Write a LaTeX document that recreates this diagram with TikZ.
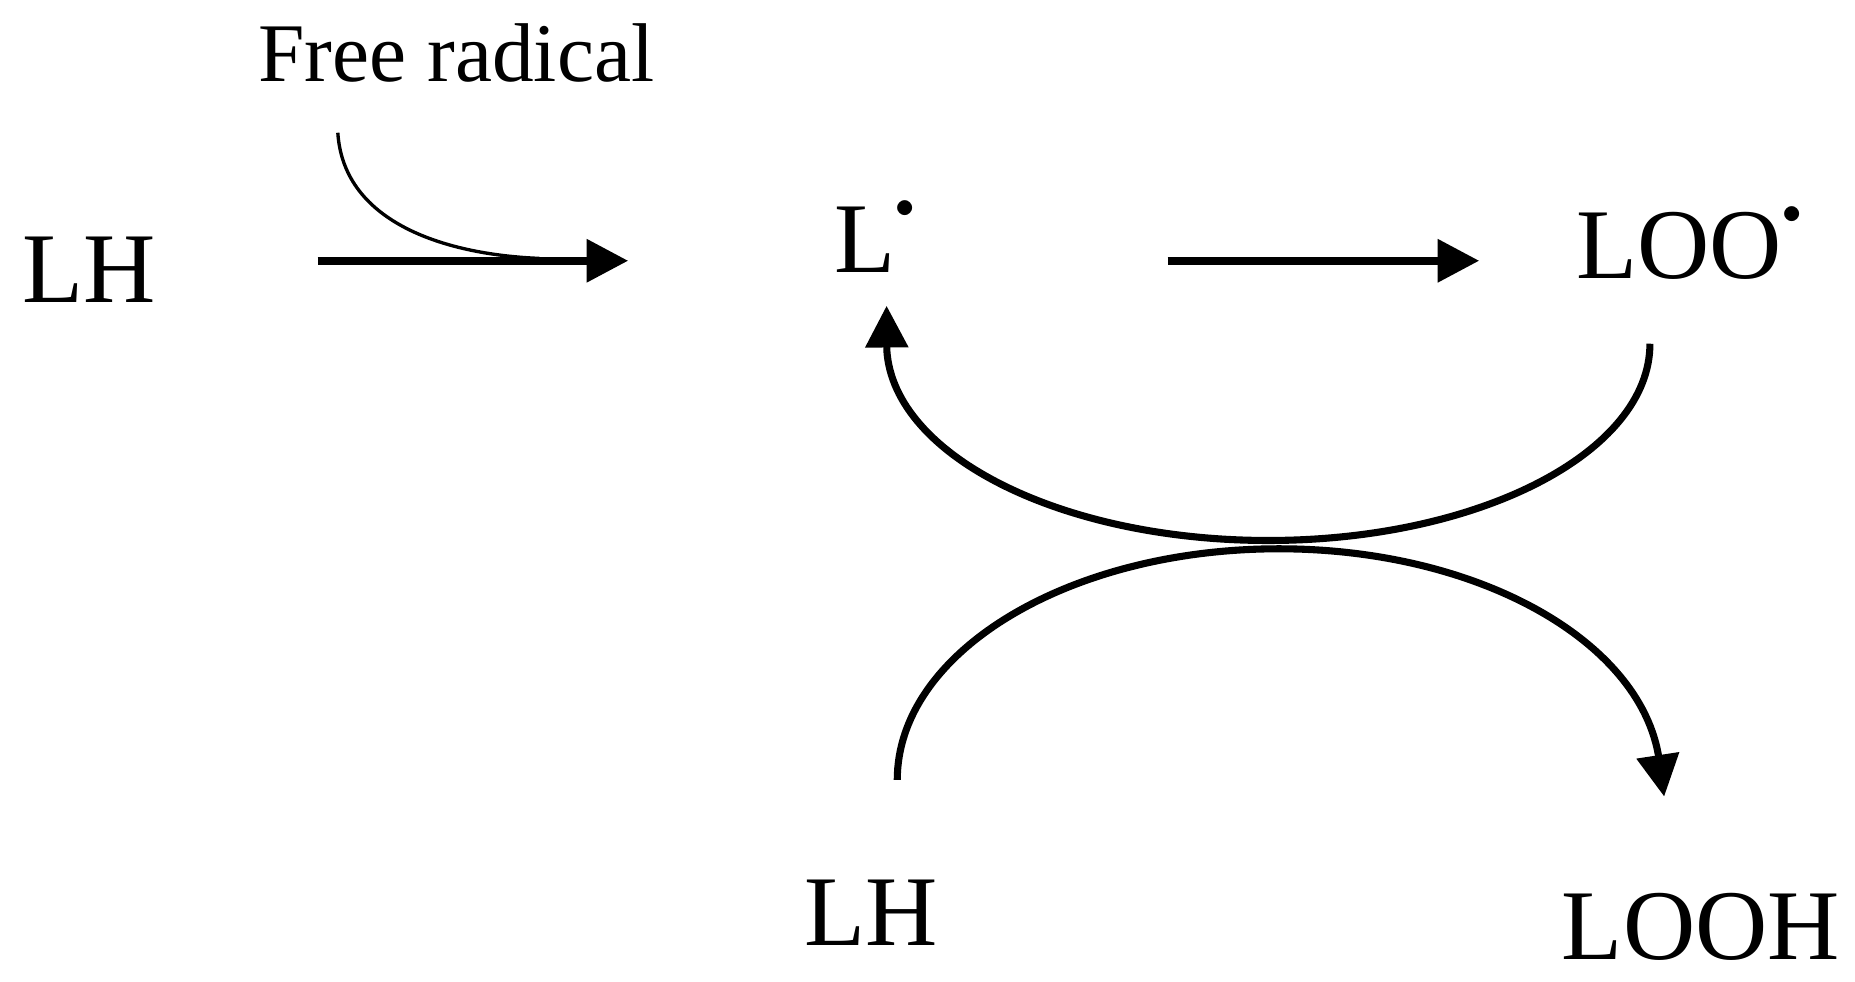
\documentclass[tikz,border=0pt]{standalone}
\usepackage{fontspec}
\setmainfont{Liberation Serif}
\usetikzlibrary{arrows.meta}
\newcommand{\rdot}{\raisebox{0.55em}{\fontsize{9}{9}\selectfont$\bullet$}}
\begin{document}
\begin{tikzpicture}[x=0.01cm,y=-0.01cm,
  lbl/.style={font=\fontsize{24}{28}\selectfont, inner sep=0pt},
  big/.style={line width=1.9pt,-{Triangle[length=10pt,width=10pt]}},
  crv/.style={line width=1.7pt,-{Triangle[length=10pt,width=10pt]}}]
\useasboundingbox (0,0) rectangle (1565,828);
\node[lbl,font=\fontsize{20}{24}\selectfont] (fr) at (385,45) {Free radical};
\node[lbl] (lh1) at (75,228) {LH};
\node[lbl] (l) at (738,200) {L\rdot};
\node[lbl] (loo) at (1425,205) {LOO\rdot};
\node[lbl] (lh2) at (735,770) {LH};
\node[lbl] (looh) at (1435,782) {LOOH};
\coordinate (a1s) at (268,220); \coordinate (a1e) at (530,220);
\coordinate (a2s) at (985,220); \coordinate (a2e) at (1248,220);
\draw[big] (a1s) -- (a1e);
\draw[big] (a2s) -- (a2e);
\coordinate (fs) at (285,112);
\draw[line width=0.8pt] (fs) .. controls (290,190) and (380,215) .. (455,218);
\draw[crv] (1392,290) arc[start angle=0,end angle=178,x radius=322,y radius=166] -- (748,258);
\draw[crv] (757,658) arc[start angle=180,end angle=358,x radius=322,y radius=195] -- (1404,672);
\end{tikzpicture}
\end{document}
